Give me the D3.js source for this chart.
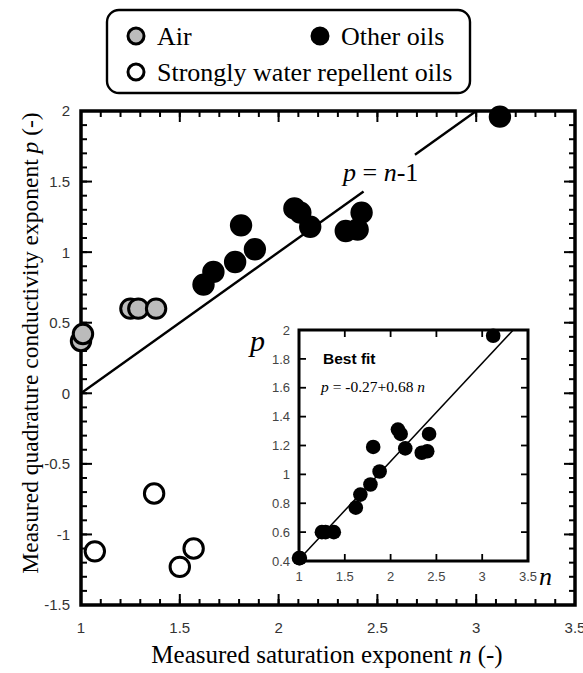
<!DOCTYPE html>
<html>
<head>
<meta charset="utf-8">
<script src="https://cdn.jsdelivr.net/npm/d3@7"></script>
<style>
  body { margin: 0; background: #fff; }
  svg { display: block; }
</style>
</head>
<body>
<div class="chart-section"></div>
<script>
// measured (n, p) pairs
const airN = [1.0, 1.01, 1.25, 1.29, 1.38];
const airP = [0.37, 0.42, 0.6, 0.6, 0.6];

const otherN = [1.62, 1.67, 1.78, 1.81, 1.88, 2.08, 2.11, 2.16, 2.34, 2.4, 2.42, 3.12];
const otherP = [0.77, 0.86, 0.93, 1.19, 1.02, 1.31, 1.28, 1.18, 1.15, 1.16, 1.28, 1.96];

const repN = [1.07, 1.37, 1.5, 1.57];
const repP = [-1.12, -0.71, -1.23, -1.1];

const xTicks = [1, 1.5, 2, 2.5, 3, 3.5];
const yTicks = [-1.5, -1, -0.5, 0, 0.5, 1, 1.5, 2];
const insetYTicks = [0.4, 0.6, 0.8, 1, 1.2, 1.4, 1.6, 1.8, 2];

const fitA = -0.27;
const fitB = 0.68;

const width = 583;
const height = 673;

const svg = d3
  .select(".chart-section")
  .append("svg")
  .attr("width", width)
  .attr("height", height);

const serif = "'Liberation Serif', 'Times New Roman', serif";
const sans = "'Liberation Sans', Arial, sans-serif";
const ink = "#000";

// ticks pointing into the frame, drawn from the scale
const drawTicks = (scale, values, side, pos, len, sw) => {
  const horiz = side === "bottom" || side === "top";
  const dir = side === "bottom" || side === "right" ? -1 : 1;
  svg
    .append("g")
    .selectAll("line")
    .data(values)
    .join("line")
    .attr("x1", (d) => (horiz ? scale(d) : pos))
    .attr("x2", (d) => (horiz ? scale(d) : pos + dir * len))
    .attr("y1", (d) => (horiz ? pos : scale(d)))
    .attr("y2", (d) => (horiz ? pos + dir * len : scale(d)))
    .attr("stroke", ink)
    .attr("stroke-width", sw);
};

const drawLabels = (scale, values, side, pos, size, color) => {
  const horiz = side === "bottom";
  svg
    .append("g")
    .selectAll("text")
    .data(values)
    .join("text")
    .attr("x", (d) => (horiz ? scale(d) : pos))
    .attr("y", (d) => (horiz ? pos : scale(d) + size * 0.36))
    .attr("text-anchor", horiz ? "middle" : "end")
    .attr("font-family", sans)
    .attr("font-size", size)
    .attr("fill", color)
    .text((d) => d);
};

// ---- main plot
const x = d3.scaleLinear().domain([1, 3.5]).range([81, 575]);
const y = d3.scaleLinear().domain([-1.5, 2]).range([605, 111]);

const minorX = d3.range(10, 36).map((d) => d / 10);
const minorY = d3.range(-15, 21).map((d) => d / 10);

drawTicks(x, minorX, "bottom", 605, 6, 2);
drawTicks(x, xTicks, "bottom", 605, 11, 2);
drawTicks(x, minorX, "top", 111, 6, 2);
drawTicks(x, xTicks, "top", 111, 11, 2);
drawTicks(y, minorY, "left", 81, 6, 2);
drawTicks(y, yTicks, "left", 81, 11, 2);
drawTicks(y, minorY, "right", 575, 6, 2);
drawTicks(y, yTicks, "right", 575, 11, 2);

drawLabels(x, xTicks, "bottom", 633, 15, "#333");
drawLabels(y, yTicks, "left", 70, 15, "#333");

svg
  .append("rect")
  .attr("x", 81)
  .attr("y", 111)
  .attr("width", 494)
  .attr("height", 494)
  .attr("fill", "none")
  .attr("stroke", ink)
  .attr("stroke-width", 3.5);

// p = n - 1 line, broken around its label
const line = d3.line().x((d) => x(d)).y((d) => y(d - 1));
svg.append("path").attr("d", line([1, 2.43])).attr("stroke", "#000").attr("stroke-width", 2.4).attr("fill", "none");
svg.append("path").attr("d", line([2.69, 3])).attr("stroke", "#000").attr("stroke-width", 2.4).attr("fill", "none");

svg
  .append("text")
  .attr("x", 343)
  .attr("y", 181)
  .attr("font-family", serif)
  .attr("font-size", 26)
  .html("<tspan font-style='italic'>p</tspan> = <tspan font-style='italic'>n</tspan>-1");

// axis titles
svg
  .append("text")
  .attr("x", 327)
  .attr("y", 663)
  .attr("text-anchor", "middle")
  .attr("font-family", serif)
  .attr("font-size", 25)
  .html("Measured saturation exponent <tspan font-style='italic'>n</tspan> (-)");

svg
  .append("text")
  .attr("transform", "translate(38,343) rotate(-90)")
  .attr("text-anchor", "middle")
  .attr("font-family", serif)
  .attr("font-size", 23.5)
  .html("Measured quadrature conductivity exponent <tspan font-style='italic'>p</tspan> (-)");

// points
const drawPoints = (ns, ps, fill) => {
  svg
    .append("g")
    .selectAll("circle")
    .data(ns)
    .join("circle")
    .attr("cx", (d) => x(d))
    .attr("cy", (d, i) => y(ps[i]))
    .attr("r", 9.7)
    .attr("fill", fill)
    .attr("stroke", "#000")
    .attr("stroke-width", 3);
};
drawPoints(airN, airP, "#bbb");
drawPoints(otherN, otherP, "#000");
drawPoints(repN, repP, "#fff");

// ---- legend
const legend = svg.append("g").attr("id", "legend");
legend
  .append("rect")
  .attr("x", 107)
  .attr("y", 10)
  .attr("width", 363)
  .attr("height", 83)
  .attr("rx", 12)
  .attr("fill", "#fff")
  .attr("stroke", "#000")
  .attr("stroke-width", 2.4);

const legendItems = [
  { label: "Air", fill: "#bbb", cx: 136, cy: 36 },
  { label: "Other oils", fill: "#000", cx: 320, cy: 36 },
  { label: "Strongly water repellent oils", fill: "#fff", cx: 136, cy: 72 },
];
legend
  .selectAll("circle")
  .data(legendItems)
  .join("circle")
  .attr("cx", (d) => d.cx)
  .attr("cy", (d) => d.cy)
  .attr("r", 8)
  .attr("fill", (d) => d.fill)
  .attr("stroke", "#000")
  .attr("stroke-width", 3);
legend
  .selectAll("text")
  .data(legendItems)
  .join("text")
  .attr("x", (d) => d.cx + 21)
  .attr("y", (d) => d.cy + 9)
  .attr("font-family", serif)
  .attr("font-size", 26)
  .text((d) => d.label);

// ---- inset
const ix = d3.scaleLinear().domain([1, 3.5]).range([299, 528]);
const iy = d3.scaleLinear().domain([0.4, 2]).range([561, 330]);

svg
  .append("rect")
  .attr("x", 299)
  .attr("y", 330)
  .attr("width", 229)
  .attr("height", 231)
  .attr("fill", "#fff");

drawTicks(ix, xTicks, "bottom", 561, 7, 1.8);
drawTicks(ix, xTicks, "top", 330, 7, 1.8);
drawTicks(iy, insetYTicks, "left", 299, 7, 1.8);
drawTicks(iy, insetYTicks, "right", 528, 7, 1.8);
drawLabels(ix, xTicks, "bottom", 581, 13, "#444");
drawLabels(iy, insetYTicks, "left", 290, 13, "#444");

svg
  .append("rect")
  .attr("x", 299)
  .attr("y", 330)
  .attr("width", 229)
  .attr("height", 231)
  .attr("fill", "none")
  .attr("stroke", ink)
  .attr("stroke-width", 3);

svg
  .append("line")
  .attr("x1", ix(1))
  .attr("y1", iy(fitA + fitB * 1))
  .attr("x2", ix((2 - fitA) / fitB))
  .attr("y2", iy(2))
  .attr("stroke", "#000")
  .attr("stroke-width", 1.5);

const insetN = airN.concat(otherN);
const insetP = airP.concat(otherP);
svg
  .append("g")
  .selectAll("circle")
  .data(insetN)
  .join("circle")
  .attr("cx", (d) => ix(d))
  .attr("cy", (d, i) => iy(Math.max(0.42, insetP[i])))
  .attr("r", 7.3)
  .attr("fill", "#000");

svg
  .append("text")
  .attr("x", 323)
  .attr("y", 364)
  .attr("font-family", sans)
  .attr("font-weight", "bold")
  .attr("font-size", 15.5)
  .text("Best fit");

svg
  .append("text")
  .attr("x", 321)
  .attr("y", 392)
  .attr("font-family", serif)
  .attr("font-size", 15.5)
  .html("<tspan font-style='italic'>p</tspan> = -0.27+0.68 <tspan font-style='italic'>n</tspan>");

svg
  .append("text")
  .attr("x", 250)
  .attr("y", 351)
  .attr("font-family", serif)
  .attr("font-style", "italic")
  .attr("font-size", 30)
  .text("p");

svg
  .append("text")
  .attr("x", 539)
  .attr("y", 585)
  .attr("font-family", serif)
  .attr("font-style", "italic")
  .attr("font-size", 26)
  .text("n");
</script>
</body>
</html>
